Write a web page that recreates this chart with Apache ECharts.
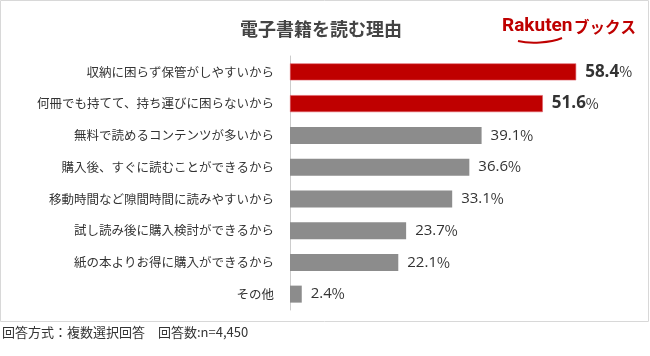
<!DOCTYPE html>
<html><head><meta charset="utf-8">
<script src="https://cdn.jsdelivr.net/npm/echarts@6/dist/echarts.min.js"></script>
<style>html,body{margin:0;padding:0;background:#fff}#c{width:650px;height:356px}</style>
</head><body><div id="c"></div>
<script>
const categories = ['収納に困らず保管がしやすいから','何冊でも持てて、持ち運びに困らないから','無料で読めるコンテンツが多いから','購入後、すぐに読むことができるから','移動時間など隙間時間に読みやすいから','試し読み後に購入検討ができるから','紙の本よりお得に購入ができるから','その他'];
const values = [58.4, 51.6, 39.1, 36.6, 33.1, 23.7, 22.1, 2.4];
const highlight = [true, true, false, false, false, false, false, false];
const F = '"Noto Sans CJK JP","Noto Sans",sans-serif';
const N = '"Open Sans","Noto Sans",sans-serif';
const chart = echarts.init(document.getElementById('c'));
chart.setOption({
  animation: false,
  graphic: [
    {type:'rect', shape:{x:0.5,y:0.5,width:648,height:321}, style:{fill:'none',stroke:'#d8d8d8',lineWidth:1}},
    {type:'text', left:240, top:20, style:{text:'電子書籍を読む理由', font:'bold 18px '+F, fill:'#444'}},
    {type:'text', left:502, top:17, style:{text:'Rakuten', font:'bold 19px "Roboto",sans-serif', fill:'#bf0000'}},
    {type:'text', left:574, top:19, style:{text:'ブックス', font:'bold 15.5px '+F, fill:'#bf0000'}},
    {type:'bezierCurve', shape:{x1:518,y1:41,x2:562,y2:38,cpx1:530,cpy1:44,cpx2:550,cpy2:43}, style:{stroke:'#bf0000',lineWidth:2,fill:'none'}},
    {type:'text', left:2, top:326, style:{text:'回答方式：複数選択回答　回答数:n=4,450', font:'13px '+F, fill:'#333'}}
  ],
  grid: {left:290, right:17, top:56, bottom:46, containLabel:false},
  xAxis: {type:'value', min:0, max:70, show:false},
  yAxis: {type:'category', data:categories, inverse:true,
    axisLine:{show:true, lineStyle:{color:'#cccccc'}}, axisTick:{show:false},
    axisLabel:{fontFamily:F, fontSize:12.5, color:'#333', margin:16}},
  series: [{
    type:'bar', barWidth:17,
    data: values.map((v,i)=>({value:v, itemStyle:{color: highlight[i]?'#bf0000':'#8c8c8c', borderColor: highlight[i]?'#e0606a':'#8c8c8c', borderWidth: highlight[i]?0.6:0}, label:{rich: highlight[i]?{n:{fontSize:17,fontWeight:'bold',color:'#333',fontFamily:N},p:{fontSize:14,color:'#333',fontFamily:F}}:{n:{fontSize:15,color:'#333',fontFamily:N},p:{fontSize:14,color:'#333',fontFamily:F}}}})),
    label:{show:true, position:'right', distance:9, formatter:p=>'{n|'+p.value.toFixed(1)+'}{p|%}'}
  }]
});
</script></body></html>
